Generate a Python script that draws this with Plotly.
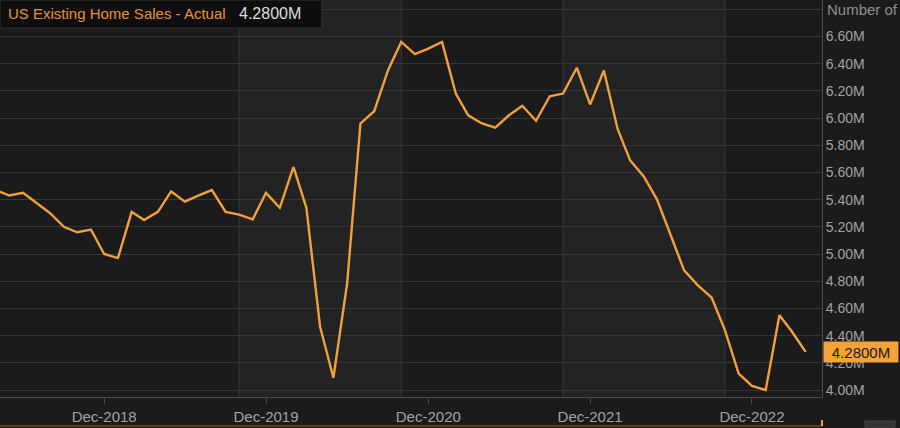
import plotly.graph_objects as go

# ---- data ----
months = [
    "2018-04-01", "2018-05-01", "2018-06-01", "2018-07-01", "2018-08-01", "2018-09-01",
    "2018-10-01", "2018-11-01", "2018-12-01",
    "2019-01-01", "2019-02-01", "2019-03-01", "2019-04-01", "2019-05-01", "2019-06-01",
    "2019-07-01", "2019-08-01", "2019-09-01", "2019-10-01", "2019-11-01", "2019-12-01",
    "2020-01-01", "2020-02-01", "2020-03-01", "2020-04-01", "2020-05-01", "2020-06-01",
    "2020-07-01", "2020-08-01", "2020-09-01", "2020-10-01", "2020-11-01", "2020-12-01",
    "2021-01-01", "2021-02-01", "2021-03-01", "2021-04-01", "2021-05-01", "2021-06-01",
    "2021-07-01", "2021-08-01", "2021-09-01", "2021-10-01", "2021-11-01", "2021-12-01",
    "2022-01-01", "2022-02-01", "2022-03-01", "2022-04-01", "2022-05-01", "2022-06-01",
    "2022-07-01", "2022-08-01", "2022-09-01", "2022-10-01", "2022-11-01", "2022-12-01",
    "2023-01-01", "2023-02-01", "2023-03-01", "2023-04-01",
]
sales_millions = [
    5.47, 5.43, 5.45, 5.375, 5.30, 5.20, 5.16, 5.18, 5.00,
    4.97, 5.31, 5.25, 5.31, 5.46, 5.385, 5.43, 5.47, 5.31, 5.29, 5.255, 5.45,
    5.34, 5.64, 5.34, 4.465, 4.09, 4.785, 5.96, 6.05, 6.35, 6.56, 6.47, 6.51,
    6.56, 6.18, 6.02, 5.96, 5.93, 6.02, 6.09, 5.98, 6.16, 6.18, 6.37, 6.10,
    6.35, 5.92, 5.69, 5.57, 5.40, 5.13, 4.88, 4.77, 4.68, 4.44, 4.12, 4.03,
    4.00, 4.55, 4.43, 4.28,
]
x_tick_vals = ["2018-12-01", "2019-12-01", "2020-12-01", "2021-12-01", "2022-12-01"]
x_tick_text = ["Dec-2018", "Dec-2019", "Dec-2020", "Dec-2021", "Dec-2022"]
y_tick_vals = [4.0, 4.2, 4.4, 4.6, 4.8, 5.0, 5.2, 5.4, 5.6, 5.8, 6.0, 6.2, 6.4, 6.6, 6.8]
y_tick_text = ["4.00M", "4.20M", "4.40M", "4.60M", "4.80M", "5.00M", "5.20M", "5.40M",
               "5.60M", "5.80M", "6.00M", "6.20M", "6.40M", "6.60M", ""]
band_starts = ["2019-10-01", "2021-10-01"]
band_ends = ["2020-10-01", "2022-10-01"]
year_lines = ["2019-10-01", "2020-10-01", "2021-10-01", "2022-10-01"]
series_name = "US Existing Home Sales - Actual"
last_label = "4.2800M"
unit_label = "Number of"

BG = "#1b1b1b"
BAND = "#232323"
GRID = "#363636"
AXIS = "#4a4a4a"
ORANGE = "#f2a03d"
TXT = "#a3a3a3"
FONT = "Liberation Sans, Arial, sans-serif"

fig = go.Figure()
fig.add_trace(go.Scatter(
    x=months, y=sales_millions, mode="lines",
    line=dict(color=ORANGE, width=2.4), name=series_name, showlegend=False,
))

shapes = []
for s, e in zip(band_starts, band_ends):
    shapes.append(dict(type="rect", xref="x", yref="paper", x0=s, x1=e, y0=0, y1=1,
                       fillcolor=BAND, line=dict(width=0), layer="below"))
for d in year_lines:
    shapes.append(dict(type="line", xref="x", yref="paper", x0=d, x1=d, y0=0, y1=1,
                       line=dict(color=GRID, width=1), layer="below"))

# plot area geometry (px): width 822, height 397
PW, PH = 822.0, 397.0
# legend box top-left
shapes.append(dict(type="rect", xref="paper", yref="paper",
                   x0=0, x1=322 / PW, y0=1 - 28 / PH, y1=1.0,
                   fillcolor="#0e0e0e", line=dict(color="#333333", width=1), layer="above"))
# bottom navigator strip
shapes.append(dict(type="line", xref="paper", yref="paper",
                   x0=0, x1=1, y0=-29 / PH, y1=-29 / PH,
                   line=dict(color="#5a3c18", width=2), layer="above"))
shapes.append(dict(type="line", xref="paper", yref="paper",
                   x0=1, x1=1, y0=-29 / PH, y1=-23 / PH,
                   line=dict(color=ORANGE, width=2), layer="above"))
shapes.append(dict(type="rect", xref="paper", yref="paper",
                   x0=865 / PW, x1=895 / PW, y0=-31 / PH, y1=-24 / PH,
                   fillcolor="#333333", line=dict(color="#444444", width=1), layer="above"))

annotations = [
    dict(xref="paper", yref="paper", x=6 / PW, y=1 - 13.5 / PH, xanchor="left", yanchor="middle",
         text=series_name, showarrow=False, font=dict(family=FONT, size=15, color="#e8913a")),
    dict(xref="paper", yref="paper", x=237 / PW, y=1 - 13.5 / PH, xanchor="left", yanchor="middle",
         text=last_label, showarrow=False, font=dict(family=FONT, size=16, color="#dcdcdc")),
    dict(xref="paper", yref="paper", x=825 / PW, y=1 - 9 / PH, xanchor="left", yanchor="middle",
         text=unit_label, showarrow=False, font=dict(family=FONT, size=15, color="#8f8f8f")),
    dict(xref="paper", yref="y", x=823 / PW, y=sales_millions[-1], xanchor="left", yanchor="middle",
         text=last_label, showarrow=False, bgcolor="#f5a236", borderpad=1,
         width=72, height=18, align="center",
         font=dict(family=FONT, size=15, color="#1a1a1a")),
]

fig.update_layout(
    width=900, height=428,
    margin=dict(l=0, r=78, t=0, b=31, pad=0),
    paper_bgcolor=BG, plot_bgcolor=BG,
    font=dict(family=FONT, size=14, color=TXT),
    shapes=shapes, annotations=annotations,
    xaxis=dict(
        type="date", range=["2018-04-10", "2023-05-08"],
        tickmode="array", tickvals=x_tick_vals, ticktext=x_tick_text,
        ticks="outside", ticklen=6, tickcolor=AXIS, tickwidth=1,
        showgrid=False, zeroline=False,
        showline=True, linecolor=AXIS, linewidth=1,
        tickfont=dict(family=FONT, size=15, color=TXT),
        automargin=False, fixedrange=True,
    ),
    yaxis=dict(
        side="right", range=[3.9485, 6.868],
        tickmode="array", tickvals=y_tick_vals, ticktext=y_tick_text,
        ticks="", showgrid=True, gridcolor=GRID, gridwidth=1, zeroline=False,
        showline=True, linecolor=AXIS, linewidth=1,
        tickfont=dict(family=FONT, size=14, color=TXT),
        automargin=False, fixedrange=True,
    ),
    showlegend=False,
)

fig.write_html(
    "out.html",
    config={"displayModeBar": False},
    post_script="document.body.style.margin='0';document.body.style.overflow='hidden';"
                "document.body.style.background='#1b1b1b';",
)
